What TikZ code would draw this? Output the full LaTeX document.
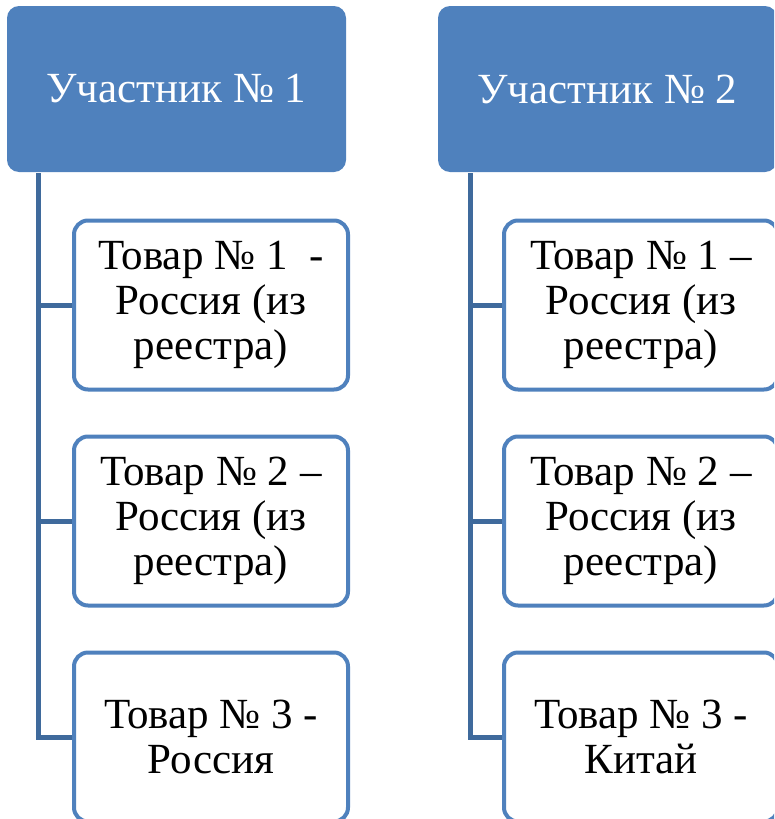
\documentclass[tikz,border=0pt]{standalone}
\usepackage{fontspec}
\setmainfont{Liberation Serif}
\definecolor{boxblue}{HTML}{4F81BD}
\definecolor{linkblue}{HTML}{3F6A9C}
\begin{document}
\begin{tikzpicture}[x=1pt,y=-1pt,
  header/.style={fill=boxblue,draw=none,rounded corners=12pt,minimum width=339pt,minimum height=166pt,
     text=white,font=\fontsize{43}{48}\selectfont,inner sep=0pt},
  item/.style={draw=boxblue,fill=white,line width=4pt,rounded corners=14pt,minimum width=274pt,minimum height=169pt,
     align=center,font=\fontsize{43}{45}\selectfont,inner sep=0pt},
  link/.style={draw=linkblue,line width=5pt}]
\useasboundingbox (0,0) rectangle (774,819);
\clip (0,0) rectangle (774,819);
% column 1
\node[header] (h1) at (176.5,89) {Участник № 1};
\node[item] (a1) at (211,305) {Товар № 1\ \ -\\Россия (из\\реестра)};
\node[item] (a2) at (211,521) {Товар № 2 –\\Россия (из\\реестра)};
\node[item] (a3) at (211,737) {Товар № 3 -\\Россия};
\coordinate (t1) at (38.5,173);
\draw[link] (t1) |- (a3.west);
\draw[link] (a1.west -| t1) -- (a1.west);
\draw[link] (a2.west -| t1) -- (a2.west);
% column 2
\node[header] (h2) at (607.5,89) {Участник № 2};
\node[item] (b1) at (641,305) {Товар № 1 –\\Россия (из\\реестра)};
\node[item] (b2) at (641,521) {Товар № 2 –\\Россия (из\\реестра)};
\node[item] (b3) at (641,737) {Товар № 3 -\\Китай};
\coordinate (t2) at (470,173);
\draw[link] (t2) |- (b3.west);
\draw[link] (b1.west -| t2) -- (b1.west);
\draw[link] (b2.west -| t2) -- (b2.west);
\end{tikzpicture}
\end{document}
